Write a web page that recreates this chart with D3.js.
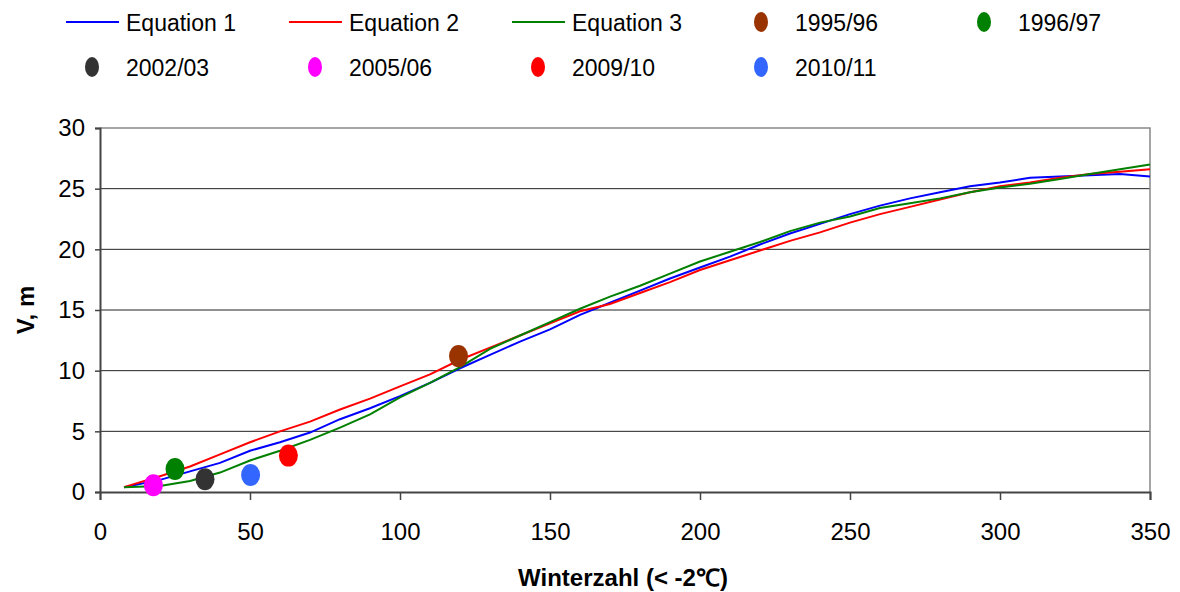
<!DOCTYPE html>
<html>
<head>
<meta charset="utf-8">
<script src="https://cdn.jsdelivr.net/npm/d3@7"></script>
<style>
  body { margin: 0; background: #fff; }
  svg { font-family: "Liberation Sans", Arial, sans-serif; }
</style>
</head>
<body>
<script>
// winter number (x) for the equation curves
const xs = [8, 20, 30, 40, 50, 60, 70, 80, 90, 100, 110, 120, 130, 140, 150, 160, 170, 180,
  190, 200, 210, 220, 230, 240, 250, 260, 270, 280, 290, 300, 310, 320, 330, 340, 350];

const eq1 = [0.4, 1.0, 1.7, 2.4, 3.4, 4.1, 4.9, 6.0, 6.9, 7.9, 9.0, 10.2, 11.3, 12.4, 13.4, 14.6, 15.6, 16.6,
  17.6, 18.5, 19.4, 20.4, 21.3, 22.1, 22.9, 23.6, 24.2, 24.7, 25.2, 25.5, 25.9, 26.0, 26.1, 26.2, 26.0];
const eq2 = [0.4, 1.3, 2.1, 3.1, 4.1, 5.0, 5.8, 6.8, 7.7, 8.7, 9.7, 10.9, 11.9, 12.9, 13.9, 14.9, 15.5, 16.4,
  17.3, 18.3, 19.1, 19.9, 20.7, 21.4, 22.2, 22.9, 23.5, 24.1, 24.7, 25.2, 25.5, 25.9, 26.2, 26.4, 26.6];
const eq3 = [0.4, 0.5, 0.9, 1.6, 2.6, 3.4, 4.3, 5.3, 6.4, 7.8, 9.0, 10.3, 11.8, 12.9, 14.0, 15.1, 16.1, 17.0,
  18.0, 19.0, 19.8, 20.6, 21.5, 22.2, 22.7, 23.4, 23.8, 24.2, 24.7, 25.1, 25.4, 25.8, 26.2, 26.6, 27.0];

// observed winters
const seasons = ["1995/96", "1996/97", "2002/03", "2005/06", "2009/10", "2010/11"];
const seasonX = [119.5, 25, 35, 17.8, 62.8, 50.2];
const seasonY = [11.2, 1.9, 1.05, 0.55, 3.0, 1.4];

const xTicks = [0, 50, 100, 150, 200, 250, 300, 350];
const yTicks = [0, 5, 10, 15, 20, 25, 30];

const lineNames = ["Equation 1", "Equation 2", "Equation 3"];
const lineColors = ["#0000ff", "#ff0000", "#008000"];
const dotColors = ["#993300", "#008000", "#333333", "#ff00ff", "#ff0000", "#3366ff"];

let margin = { top: 128, right: 30, bottom: 100, left: 100 };
let width = 1180 - margin.left - margin.right;
let height = 592 - margin.top - margin.bottom;

let svg = d3.select("body").append("svg")
  .attr("width", 1180)
  .attr("height", 592);

let g = svg.append("g")
  .attr("transform", "translate(" + margin.left + "," + margin.top + ")");

let x = d3.scaleLinear().domain([0, 350]).range([0, width]);
let y = d3.scaleLinear().domain([0, 30]).range([height, 0]);

// gridlines
g.append("g")
  .selectAll("line")
  .data(yTicks.slice(1, -1))
  .join("line")
  .attr("x1", 0).attr("x2", width)
  .attr("y1", d => y(d)).attr("y2", d => y(d))
  .attr("stroke", "#222").attr("stroke-width", 1);

// frame top/right
g.append("path")
  .attr("d", "M0,0H" + width + "V" + height)
  .attr("fill", "none").attr("stroke", "#888").attr("stroke-width", 1.5);

let yAxis = g.append("g")
  .call(d3.axisLeft(y).tickValues(yTicks).tickSize(5).tickPadding(10));
let xAxis = g.append("g")
  .attr("transform", "translate(0," + height + ")")
  .call(d3.axisBottom(x).tickValues(xTicks).tickSize(8).tickPadding(23));

[yAxis, xAxis].forEach(a => {
  a.select(".domain").attr("stroke", "#444").attr("stroke-width", 2);
  a.selectAll(".tick line").attr("stroke", "#444").attr("stroke-width", 1.5);
  a.selectAll("text").attr("font-size", 24).attr("fill", "#000")
    .attr("font-family", "Liberation Sans, Arial, sans-serif");
});

// curves
let valueLine = d3.line()
  .x((d, i) => x(xs[i]))
  .y(d => y(d));

[eq1, eq2, eq3].forEach((s, k) => {
  g.append("path")
    .datum(s)
    .attr("fill", "none")
    .attr("stroke", lineColors[k])
    .attr("stroke-width", 2)
    .attr("d", valueLine);
});

// observed points
g.selectAll(".obs")
  .data(seasons)
  .join("ellipse")
  .attr("class", "obs")
  .attr("cx", (d, i) => x(seasonX[i]))
  .attr("cy", (d, i) => y(seasonY[i]))
  .attr("rx", 9.5).attr("ry", 11)
  .attr("fill", (d, i) => dotColors[i]);

// axis titles
svg.append("text")
  .attr("x", 623).attr("y", 586)
  .attr("text-anchor", "middle")
  .attr("font-size", 24).attr("font-weight", "bold")
  .text("Winterzahl (< -2\u2103)");

svg.append("text")
  .attr("transform", "translate(34," + (margin.top + height / 2) + ") rotate(-90)")
  .attr("text-anchor", "middle")
  .attr("font-size", 24).attr("font-weight", "bold")
  .text("V, m");

// legend
let items = lineNames.map((n, i) => ({ name: n, type: "line", color: lineColors[i] }))
  .concat(seasons.map((n, i) => ({ name: n, type: "dot", color: dotColors[i] })));

let legend = svg.append("g");
items.forEach((it, i) => {
  let col = i % 5, row = Math.floor(i / 5);
  let lx = 126 + col * 223, ly = 22 + row * 45;
  let item = legend.append("g").attr("transform", "translate(" + lx + "," + ly + ")");
  if (it.type === "line") {
    item.append("line")
      .attr("x1", -60).attr("x2", -7).attr("y1", 0).attr("y2", 0)
      .attr("stroke", it.color).attr("stroke-width", 2);
  } else {
    item.append("ellipse")
      .attr("cx", -34).attr("cy", 0).attr("rx", 7).attr("ry", 10)
      .attr("fill", it.color);
  }
  item.append("text")
    .attr("x", 0).attr("y", 8.5)
    .attr("font-size", 23)
    .text(it.name);
});
</script>
</body>
</html>
